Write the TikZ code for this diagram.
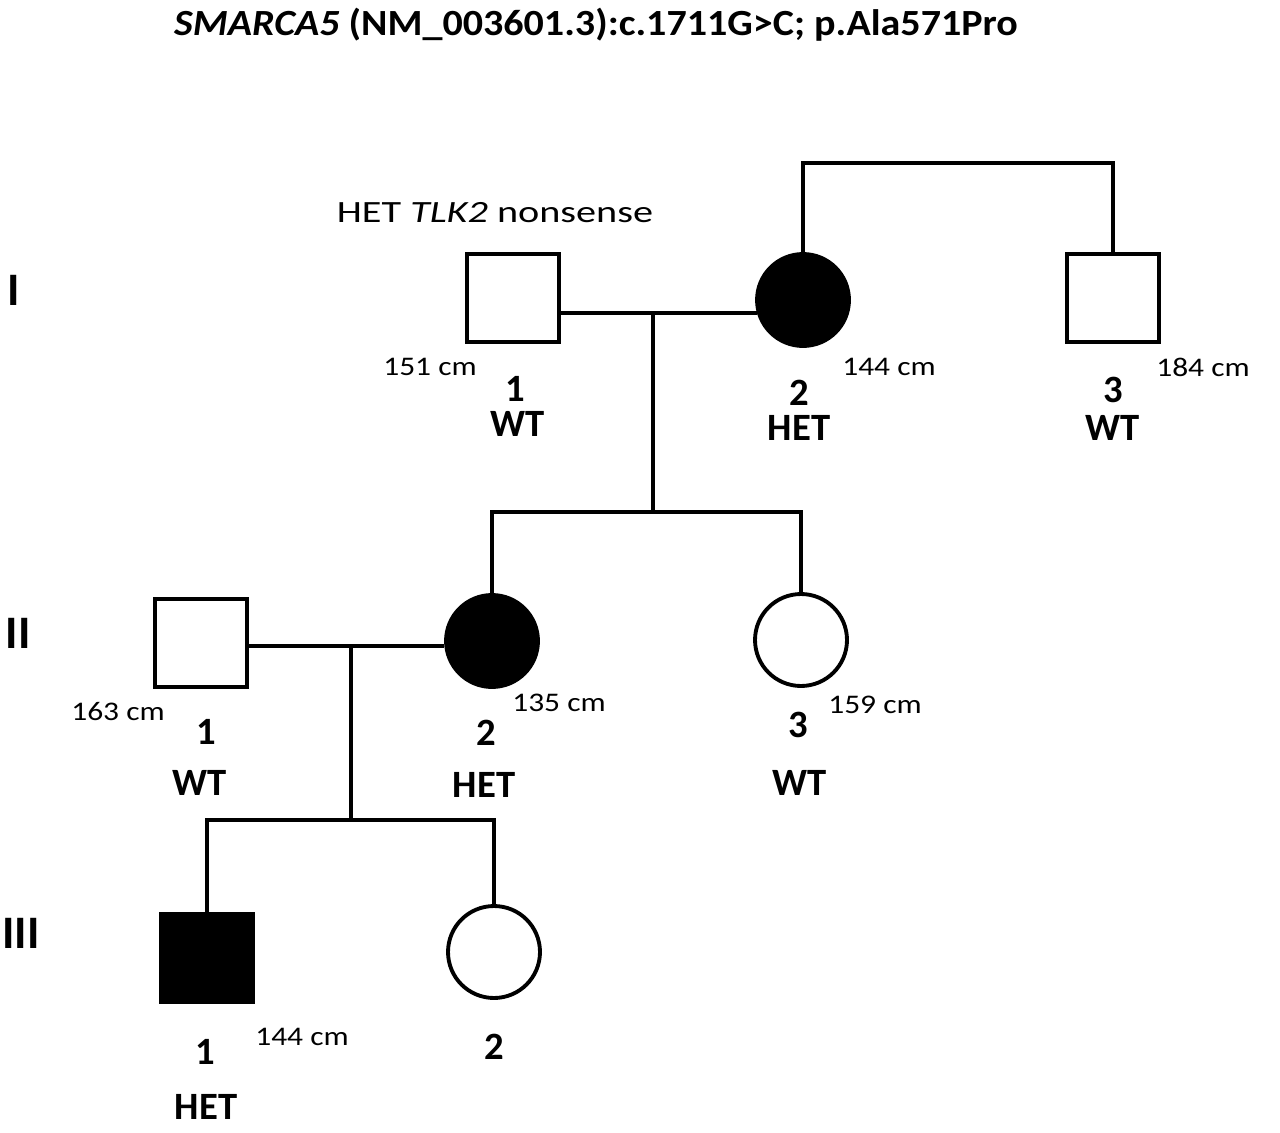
\documentclass[tikz,border=0pt]{standalone}
\usepackage{fontspec}
\setmainfont{Carlito}
\newfontfamily\titlefont[FakeStretch=1.085]{Carlito}
\newfontfamily\heightfont[FakeStretch=1.17]{Carlito}
\newfontfamily\notefont[FakeStretch=1.3]{Carlito}
\usepackage{tikz,xcolor}
\tikzstyle{label} = [inner sep=0pt, font=\heightfont\fontsize{15.3}{18}\selectfont]
\tikzset{male/.style={draw, line width=2.2pt, minimum width=1.84cm, minimum height=1.76cm, inner sep=0pt},
    female/.style={circle, draw, line width=2.2pt, minimum size=1.84cm, inner sep=0pt},
    affected/.style={fill=black},
    mate/.style={line width=2.2pt},
    sib/.style={line width=1.8pt},
    idnum/.style={inner sep=0pt, font=\bfseries\fontsize{22}{26}\selectfont},
    gen/.style={inner sep=0pt, font=\bfseries\fontsize{26.5}{30}\selectfont}}

\begin{document}
\begin{tikzpicture}[x=0.02cm, y=-0.02cm]
    \useasboundingbox (0,0) rectangle (1280,1132);
    % Title
    \node[inner sep=0pt, font=\titlefont\bfseries\fontsize{21}{25}\selectfont] (title) at (596,25)
        {\textit{SMARCA5} (NM\_003601.3):c.1711G>C; p.Ala571Pro};
    % Generations
    \node[gen] (genI) at (14,290) {I};
    \node[gen] (genII) at (18,633) {II};
    \node[gen] (genIII) at (21,933) {III};
    %
    % Definition of individuals
    \node[male] (I1) at (513,298) {};
    \node[female, affected] (I2) at (803,300) {};
    \node[male] (I3) at (1113,298) {};
    \node[male] (II1) at (201,643) {};
    \node[female, affected] (II2) at (492,641) {};
    \node[female] (II3) at (801,640) {};
    \node[male, affected] (III1) at (207,958) {};
    \node[female] (III2) at (494,952) {};
    %
    \coordinate (top) at (957,163);
    \coordinate (m1) at (653,313);
    \coordinate (s1) at (653,512);
    \coordinate (m2) at (351,646);
    \coordinate (s2) at (351,820);
    % Lines
    \draw[sib] (I2.north) |- (top) -| (I3.north);
    \draw[mate] (I1.east |- I2.196) -- (I2.196);
    \draw[mate] (m1) -- (s1);
    \draw[sib] (II2.north) |- (s1) -| (II3.north);
    \draw[mate] (II1.east |- II2.186) -- (II2.186);
    \draw[mate] (m2) -- (s2);
    \draw[sib] (III1.north) |- (s2) -| (III2.north);
    %
    % Labels
    \node[inner sep=0pt, font=\notefont\fontsize{17.6}{21}\selectfont] (tlk) at (495,213) {HET \textit{TLK2} nonsense};
    \node[label] (I1h) at (430,367) {151 cm};
    \node[idnum] (I1n) at (515,389) {1};
    \node[idnum] (I1g) at (518,424) {WT};
    \node[label] (I2h) at (889,367) {144 cm};
    \node[idnum] (I2n) at (799,393) {2};
    \node[idnum] (I2g) at (799,428) {HET};
    \node[label] (I3h) at (1203,367) {184 cm};
    \node[idnum] (I3n) at (1113,390) {3};
    \node[idnum] (I3g) at (1113,428) {WT};
    \node[label] (II1h) at (118,712) {163 cm};
    \node[idnum] (II1n) at (206,732) {1};
    \node[idnum] (II1g) at (200,783) {WT};
    \node[label] (II2h) at (559,703) {135 cm};
    \node[idnum] (II2n) at (486,733) {2};
    \node[idnum] (II2g) at (484,785) {HET};
    \node[label] (II3h) at (875,705) {159 cm};
    \node[idnum] (II3n) at (798,725) {3};
    \node[idnum] (II3g) at (800,783) {WT};
    \node[label] (III1h) at (302,1037) {144 cm};
    \node[idnum] (III1n) at (205,1052) {1};
    \node[idnum] (III1g) at (206,1107) {HET};
    \node[idnum] (III2n) at (494,1047) {2};
\end{tikzpicture}
\end{document}
